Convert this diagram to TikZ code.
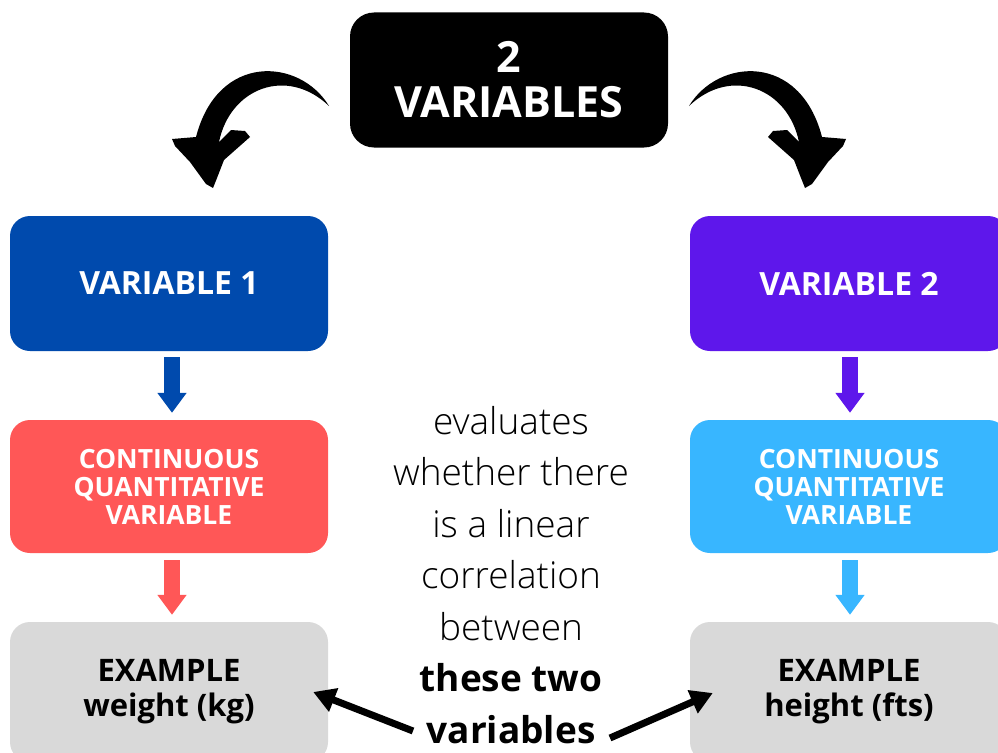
\documentclass[tikz,border=0pt]{standalone}
\usepackage{fontspec}
\setmainfont{Open Sans}
\newfontfamily\lightfont{Open Sans Light}
\usetikzlibrary{arrows.meta}

\definecolor{varone}{HTML}{004AAD}
\definecolor{vartwo}{HTML}{5E17EB}
\definecolor{contred}{HTML}{FF5757}
\definecolor{contblue}{HTML}{38B6FF}
\definecolor{examplegrey}{HTML}{D9D9D9}

% brush-stroke curved arrow, drawn for the left side
\newcommand\brusharrowpath{%
  (329,106) .. controls (300,58) and (218,52) .. (196,137)
  -- (172,139) -- (175,146) -- (190,162) -- (206,184) -- (213,188)
  -- (217,178) -- (224,160) -- (250,137) -- (245,131) -- (231,130)
  -- (219,142) .. controls (230,88) and (287,66) .. (329,106) -- cycle}

\begin{document}
\begin{tikzpicture}[x=1pt,y=-1pt,
  box/.style={rounded corners=20pt, minimum width=318pt, inner sep=0pt,
              align=center, text=white},
  blockarrow/.style={line width=16pt, -{Triangle[width=28pt,length=20pt]}},
  pointer/.style={line width=7pt, -{Triangle[width=24pt,length=22pt]}},
]
\useasboundingbox (0,0) rectangle (998,752);
\clip (0,0) rectangle (998,752);

% title box and the two curved arrows
\node[box, fill=black, minimum height=135pt, rounded corners=24pt,
      font=\bfseries\fontsize{43}{45}\selectfont] (top) at (509,80) {2\\VARIABLES};
\fill[black] \brusharrowpath;
\begin{scope}[shift={(1018,0)}, xscale=-1]
  \fill[black] \brusharrowpath;
\end{scope}

% variable boxes
\node[box, fill=varone, minimum height=135pt,
      font=\bfseries\fontsize{32}{36}\selectfont] (v1) at (169,283.5) {VARIABLE 1};
\node[box, fill=vartwo, minimum height=135pt,
      font=\bfseries\fontsize{32}{36}\selectfont] (v2) at (849,283.5) {VARIABLE 2};

% type boxes
\node[box, fill=contred, minimum height=133pt,
      font=\bfseries\fontsize{26.5}{28}\selectfont] (c1) at (169,486.5)
      {CONTINUOUS\\QUANTITATIVE\\VARIABLE};
\node[box, fill=contblue, minimum height=133pt,
      font=\bfseries\fontsize{26.5}{28}\selectfont] (c2) at (849,486.5)
      {CONTINUOUS\\QUANTITATIVE\\VARIABLE};

% example boxes
\node[box, fill=examplegrey, minimum height=140pt, text=black,
      font=\bfseries\fontsize{31}{35}\selectfont] (e1) at (169,692)
      {EXAMPLE\\weight (kg)};
\node[box, fill=examplegrey, minimum height=140pt, text=black,
      font=\bfseries\fontsize{31}{35}\selectfont] (e2) at (849,692)
      {EXAMPLE\\height (fts)};

% block arrows between the boxes
\draw[blockarrow, varone]   ([xshift=3pt,yshift=-6pt]v1.south) -- ([xshift=3pt,yshift=7pt]c1.north);
\draw[blockarrow, contred]  ([xshift=3pt,yshift=-7pt]c1.south) -- ([xshift=3pt,yshift=7pt]e1.north);
\draw[blockarrow, vartwo]   ([xshift=1pt,yshift=-6pt]v2.south) -- ([xshift=1pt,yshift=7pt]c2.north);
\draw[blockarrow, contblue] ([xshift=1pt,yshift=-7pt]c2.south) -- ([xshift=1pt,yshift=7pt]e2.north);

% centre text (anchored at the baseline of its last line)
\node[anchor=base, align=center, inner sep=0pt,
      font=\lightfont\fontsize{37}{51.5}\selectfont] (desc) at (511,743)
      {evaluates\\whether there\\is a linear\\correlation\\between\\
       {\normalfont\bfseries these two}\\{\normalfont\bfseries variables}};

% pointers from the text to the examples
\coordinate (la) at (413,731);
\coordinate (ra) at (610,738);
\draw[pointer] (la) -- ([xshift=-15pt]e1.east);
\draw[pointer] (ra) -- ([xshift=23pt,yshift=-1pt]e2.west);
\end{tikzpicture}
\end{document}
